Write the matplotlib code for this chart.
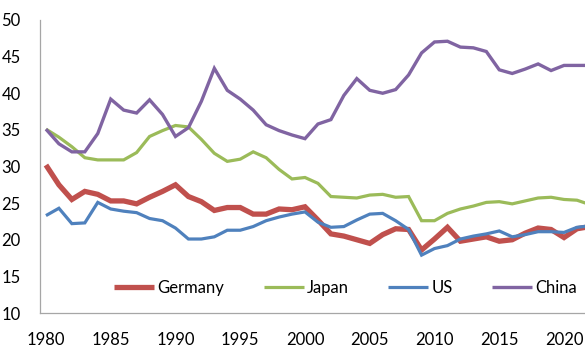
import matplotlib
matplotlib.use('Agg')
import matplotlib.pyplot as plt

years = list(range(1980, 2023))

germany = [30.2, 27.5, 25.5, 26.6, 26.2, 25.3, 25.3, 24.9, 25.8, 26.6,
           27.5, 25.9, 25.2, 24.0, 24.4, 24.4, 23.5, 23.5, 24.2, 24.1,
           24.5, 22.7, 20.8, 20.5, 20.0, 19.5, 20.7, 21.5, 21.4, 18.6,
           20.1, 21.7, 19.8, 20.1, 20.4, 19.8, 20.0, 20.9, 21.6, 21.4,
           20.3, 21.5, 21.8]
japan = [35.1, 34.0, 32.7, 31.2, 30.9, 30.9, 30.9, 31.9, 34.1, 34.9,
         35.6, 35.4, 33.7, 31.8, 30.7, 31.0, 32.0, 31.2, 29.6, 28.3,
         28.5, 27.7, 25.9, 25.8, 25.7, 26.1, 26.2, 25.8, 25.9, 22.6,
         22.6, 23.6, 24.2, 24.6, 25.1, 25.2, 24.9, 25.3, 25.7, 25.8,
         25.5, 25.4, 24.8]
us = [23.3, 24.3, 22.2, 22.3, 25.1, 24.2, 23.9, 23.7, 22.9, 22.6,
      21.6, 20.1, 20.1, 20.4, 21.3, 21.3, 21.8, 22.6, 23.1, 23.5,
      23.8, 22.4, 21.7, 21.8, 22.7, 23.5, 23.6, 22.6, 21.4, 17.9,
      18.8, 19.2, 20.1, 20.5, 20.8, 21.2, 20.4, 20.7, 21.1, 21.1,
      21.0, 21.7, 21.9]
china = [35.1, 33.1, 32.0, 32.0, 34.5, 39.2, 37.7, 37.3, 39.1, 37.1,
         34.1, 35.3, 38.9, 43.4, 40.4, 39.2, 37.7, 35.7, 34.9, 34.3,
         33.8, 35.8, 36.4, 39.7, 42.0, 40.4, 40.0, 40.5, 42.5, 45.5,
         47.0, 47.1, 46.3, 46.2, 45.7, 43.2, 42.7, 43.3, 44.0, 43.1,
         43.8, 43.8, 43.8]

series = [('Germany', germany, '#C0504D', 3.8),
          ('Japan', japan, '#9BBB59', 2.3),
          ('US', us, '#4F81BD', 2.3),
          ('China', china, '#8064A2', 2.4)]

plt.rcParams['font.family'] = ['Lato', 'DejaVu Sans']

fig = plt.figure(figsize=(5.85, 3.56), dpi=100)
ax = fig.add_axes([40 / 585, 43 / 356, 545 / 585, 293 / 356])

for name, vals, color, lw in series:
    ax.plot(years, vals, color=color, lw=lw, label=name,
            solid_joinstyle='miter', solid_capstyle='butt')

ax.set_xlim(1979.54, 2021.62)
ax.set_ylim(10, 50)
ax.set_xticks(range(1980, 2021, 5))
ax.set_yticks(range(10, 51, 5))
ax.tick_params(length=0, labelsize=12, colors='#000000')
ax.tick_params(axis='y', pad=14)
ax.tick_params(axis='x', pad=14)

for side in ['top', 'right']:
    ax.spines[side].set_visible(False)
for side in ['left', 'bottom']:
    ax.spines[side].set_color('#a6a6a6')
    ax.spines[side].set_linewidth(0.9)

ax.legend(loc='center', bbox_to_anchor=(0.561, 0.086), ncol=4, frameon=False,
          fontsize=12, handlelength=2.4, handletextpad=0.2, columnspacing=2.35)

fig.savefig('out.png', dpi=100)
